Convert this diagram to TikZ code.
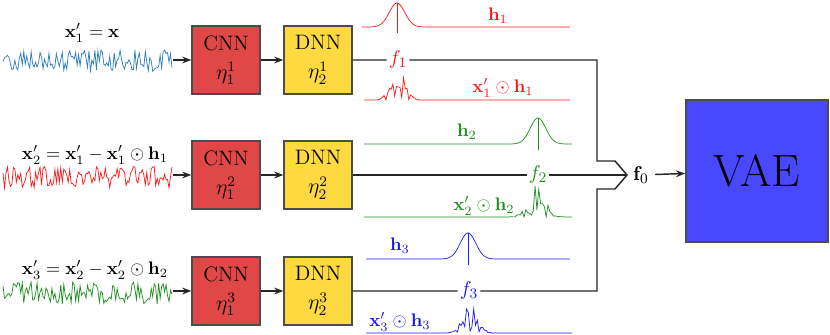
\documentclass[tikz,border=0pt]{standalone}
\usetikzlibrary{arrows.meta}
\definecolor{cnnred}{HTML}{E04848}
\definecolor{dnnyel}{HTML}{FFD940}
\definecolor{vaeblue}{HTML}{4848FF}
\definecolor{sigblue}{HTML}{2E7EBF}
\definecolor{sigred}{HTML}{FF1A1A}
\definecolor{siggreen}{HTML}{1F8F1F}
\definecolor{hblue}{HTML}{1A1AF0}
\begin{document}
\begin{tikzpicture}
  [x=0.55pt,y=-0.55pt,
   box/.style={rectangle,draw=black!70,line width=0.8pt,minimum size=37.4pt,inner sep=0pt,align=center,font=\fontsize{11.5}{15}\selectfont},
   cnn/.style={box,fill=cnnred},
   dnn/.style={box,fill=dnnyel},
   conn/.style={-{Stealth[length=5pt]},line width=0.8pt,black!85},
   wire/.style={line width=0.8pt,black!85},
   sig/.style={line width=0.4pt},
   flab/.style={fill=white,inner sep=1pt,font=\fontsize{11}{13}\selectfont}]
  \useasboundingbox (0,0) rectangle (830,335);
  \pgfmathsetseed{11}

  \foreach \r/\y in {1/60,2/175,3/291}{
    \node[cnn] (c\r) at (226,\y) {CNN\\[1pt]$\eta_1^{\r}$};
    \node[dnn] (d\r) at (318,\y) {DNN\\[1pt]$\eta_2^{\r}$};
    \coordinate (s\r) at (173,\y);
  }

  % input signals
  \node (x1) at (92,33) {$\mathbf{x}'_1=\mathbf{x}$};
  \node (x2) at (95,155) {$\mathbf{x}'_2=\mathbf{x}'_1-\mathbf{x}'_1\odot\mathbf{h}_1$};
  \node (x3) at (95,270) {$\mathbf{x}'_3=\mathbf{x}'_2-\mathbf{x}'_2\odot\mathbf{h}_2$};
  \draw[sig,sigblue] plot[domain=3:172,samples=115] (\x,{61+11*rand});
  \draw[sig,sigred] plot[domain=3:172,samples=115] (\x,{177+11*rand});
  \draw[sig,siggreen] plot[domain=3:172,samples=115] (\x,{293+11*rand});

  \foreach \from/\to in {s1/c1,c1/d1,s2/c2,c2/d2,s3/c3,c3/d3}
  \draw[conn] (\from) -- (\to);

  % windows h and masked signals
  \draw[sig,sigred] (362,27) -- plot[domain=362:440,samples=60] (\x,{27-24*exp(-((\x-397)/11)^2)}) -- (570,27);
  \draw[sigred,very thin] (397,3) -- (397,33);
  \draw[sig,sigred] (364,100) -- plot[domain=370:430,samples=35] (\x,{100-32*exp(-((\x-398)/10)^2)*rnd}) -- (570,100);
  \node[text=sigred] (h1) at (498,16) {$\mathbf{h}_1$};
  \node[text=sigred] (hx1) at (503,88) {$\mathbf{x}'_1\odot\mathbf{h}_1$};

  \draw[sig,siggreen] (364,144) -- plot[domain=500:572,samples=60] (\x,{144-26*exp(-((\x-538)/11)^2)});
  \draw[siggreen,very thin] (538,118) -- (538,150);
  \draw[sig,siggreen] (364,217) -- plot[domain=500:572,samples=40] (\x,{217-32*exp(-((\x-537)/12)^2)*rnd});
  \node[text=siggreen] (h2) at (467,132) {$\mathbf{h}_2$};
  \node[text=siggreen] (hx2) at (484,206) {$\mathbf{x}'_2\odot\mathbf{h}_2$};

  \draw[sig,hblue] (366,259) -- plot[domain=430:506,samples=60] (\x,{259-26*exp(-((\x-468)/11)^2)}) -- (570,259);
  \draw[hblue,very thin] (468,233) -- (468,265);
  \draw[sig,hblue] (366,333) -- plot[domain=436:506,samples=40] (\x,{333-32*exp(-((\x-471)/11)^2)*rnd}) -- (572,333);
  \node[text=hblue] (h3) at (400,246) {$\mathbf{h}_3$};
  \node[text=hblue] (hx3) at (400,322) {$\mathbf{x}'_3\odot\mathbf{h}_3$};

  % features into the merge
  \node[flab,text=sigred] (f1) at (398,60) {$f_1$};
  \node[flab,text=siggreen] (f2) at (538,175) {$f_2$};
  \node[flab,text=hblue] (f3) at (469,291) {$f_3$};
  \coordinate (j1) at (597,60);
  \coordinate (j1b) at (597,161);
  \coordinate (k1) at (615,161);
  \coordinate (tip) at (627,175);
  \coordinate (k3) at (615,189);
  \coordinate (j3b) at (597,189);
  \coordinate (j3) at (597,291);
  \draw[wire] (d1) -- (f1) -- (j1) -- (j1b) -- (k1) -- (tip) -- (k3) -- (j3b) -- (j3) -- (f3) -- (d3);
  \draw[wire] (d2) -- (f2) -- (tip);

  \node[font=\fontsize{11}{13}\selectfont] (f0) at (641,175) {$\mathbf{f}_0$};
  \node[box,fill=vaeblue,minimum size=78pt,line width=1.1pt,font=\Huge] (vae) at (757,171) {VAE};
  \draw[conn] (f0) -- (vae);
\end{tikzpicture}
\end{document}
